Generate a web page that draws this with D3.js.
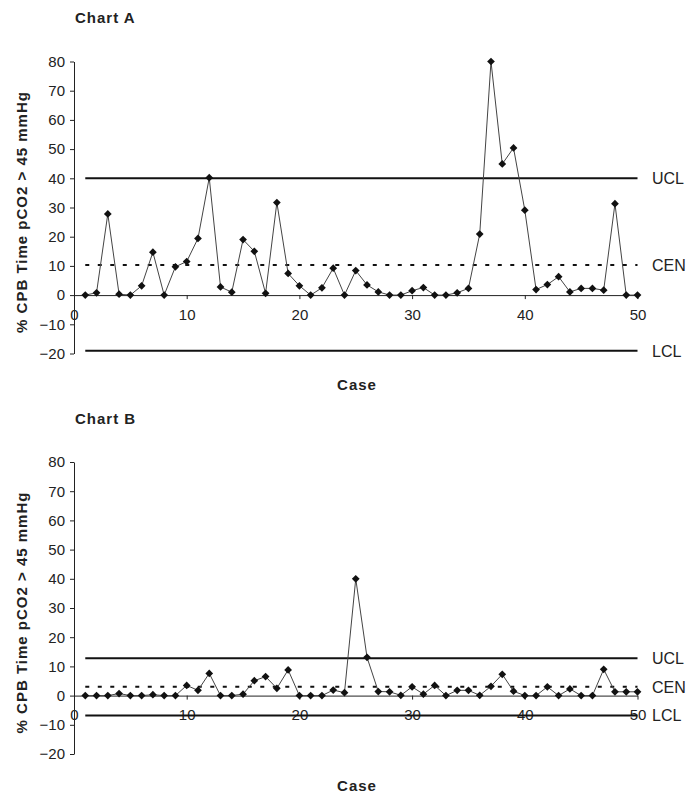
<!DOCTYPE html>
<html lang="en">
  <head>
    <meta charset="UTF-8" />
    <script src="https://d3js.org/d3.v7.min.js"></script>
    <title>Control charts</title>
    <style>
      body { margin: 0; background: #fff; }
      text { font-family: "Liberation Sans", Arial, sans-serif; fill: #222; }
    </style>
  </head>
  <body>
    <script>
      // case numbers 1..50
      const cases = d3.range(1, 51);

      // % CPB time with pCO2 > 45 mmHg
      const valuesA = [0, 0.8, 27.8, 0.3, 0, 3.2, 14.7, 0, 9.7, 11.5,
        19.4, 40.2, 2.8, 1.0, 19.0, 15.0, 0.6, 31.7, 7.4, 3.2,
        0, 2.5, 9.2, 0, 8.4, 3.5, 1.1, 0, 0, 1.5,
        2.6, 0, 0, 0.8, 2.3, 20.9, 80, 44.9, 50.4, 29.1,
        1.9, 3.6, 6.3, 1.1, 2.3, 2.3, 1.7, 31.3, 0, 0];
      const valuesB = [0, 0, 0, 0.7, 0, 0, 0.3, 0, 0, 3.5,
        1.8, 7.6, 0, 0, 0.5, 5.1, 6.5, 2.5, 8.8, 0,
        0, 0, 1.9, 1.0, 40, 13.1, 1.4, 1.3, 0.1, 3.0,
        0.5, 3.5, 0, 1.8, 1.8, 0.1, 3.2, 7.3, 1.5, 0,
        0, 3.0, 0, 2.3, 0, 0, 9.0, 1.3, 1.3, 1.3];

      const limitNames = ["UCL", "CEN", "LCL"];
      const limitsA = [40, 10.3, -19.1];
      const limitsB = [12.8, 3.0, -6.8];

      const titles = ["Chart A", "Chart B"];
      const yTicks = [-20, -10, 0, 10, 20, 30, 40, 50, 60, 70, 80];
      const xTicks = [0, 10, 20, 30, 40, 50];
      const yLabel = "% CPB Time pCO2 > 45 mmHg";
      const xLabel = "Case";

      let svg = d3
        .select("body")
        .append("svg")
        .attr("width", 699)
        .attr("height", 794);

      let x = d3.scaleLinear().domain([0, 50]).range([74, 637.5]);

      function drawChart(top, title, values, limits) {
        let g = svg.append("g").attr("transform", "translate(0," + top + ")");
        let y = d3.scaleLinear().domain([-20, 80]).range([353.5, 61.5]);

        g.append("text")
          .attr("x", 75)
          .attr("y", 23)
          .style("font-size", "15px")
          .style("font-weight", "bold")
          .style("letter-spacing", "1px")
          .text(title);

        // y axis
        let yAxis = g
          .append("g")
          .attr("transform", "translate(" + x(0) + ",0)")
          .call(d3.axisLeft(y).tickValues(yTicks).tickSize(4).tickSizeOuter(0).tickPadding(5));
        yAxis.selectAll("text").style("font-size", "15px");

        // x axis sits on zero
        let xAxis = g
          .append("g")
          .attr("transform", "translate(0," + y(0) + ")")
          .call(d3.axisBottom(x).tickValues(xTicks).tickSize(4).tickSizeOuter(0).tickPadding(10));
        xAxis.selectAll("text").style("font-size", "15px");

        svg.selectAll(".domain, .tick line").attr("stroke", "#222");

        // control limits
        limitNames.forEach(function (name, i) {
          g.append("line")
            .attr("x1", x(1))
            .attr("x2", x(50))
            .attr("y1", y(limits[i]))
            .attr("y2", y(limits[i]))
            .attr("stroke", "#111")
            .attr("stroke-width", 2)
            .attr("stroke-dasharray", name == "CEN" ? "4,8.5" : null);
          g.append("text")
            .attr("x", 652)
            .attr("y", y(limits[i]))
            .attr("dy", "0.36em")
            .style("font-size", "16px")
            .text(name);
        });

        let line = d3
          .line()
          .x((d, i) => x(cases[i]))
          .y((d) => y(d));

        g.append("path")
          .attr("d", line(values))
          .attr("fill", "none")
          .attr("stroke", "#444")
          .attr("stroke-width", 1);

        g.selectAll("path.pt")
          .data(values)
          .enter()
          .append("path")
          .attr("class", "pt")
          .attr("d", d3.symbol(d3.symbolSquare, 30))
          .attr("transform", (d, i) => "translate(" + x(cases[i]) + "," + y(d) + ") rotate(45)")
          .attr("fill", "#111");

        g.append("text")
          .attr("transform", "translate(27,212) rotate(-90)")
          .attr("text-anchor", "middle")
          .style("font-size", "15px")
          .style("font-weight", "bold")
          .style("letter-spacing", "1px")
          .text(yLabel);

        g.append("text")
          .attr("x", 357)
          .attr("y", 390)
          .attr("text-anchor", "middle")
          .style("font-size", "15px")
          .style("font-weight", "bold")
          .style("letter-spacing", "1px")
          .text(xLabel);
      }

      drawChart(0, titles[0], valuesA, limitsA);
      drawChart(400.5, titles[1], valuesB, limitsB);
    </script>
  </body>
</html>
